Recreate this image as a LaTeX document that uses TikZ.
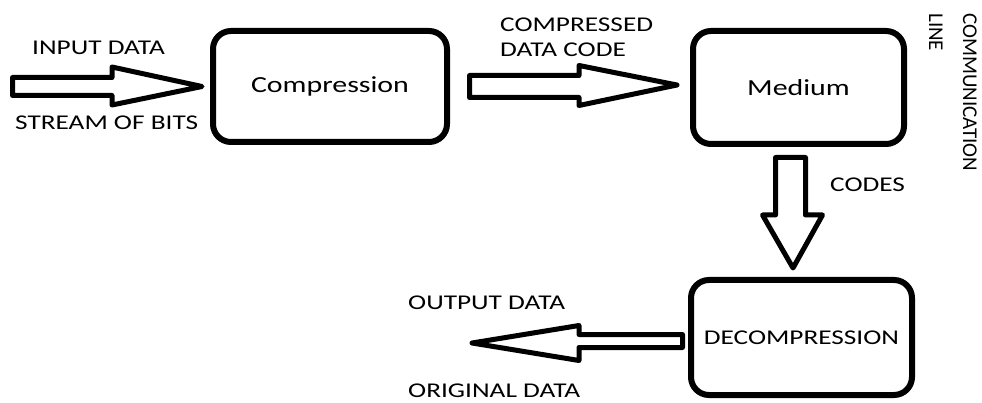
\documentclass[tikz,border=0pt]{standalone}
\usepackage{fontspec}
\setmainfont{Carlito}[FakeStretch=1.3]
\newfontfamily\plainfont{Carlito}
\begin{document}
\begin{tikzpicture}[x=1pt,y=-1pt,
  box/.style={draw, line width=6pt, rounded corners=18pt, inner sep=0pt, align=center},
  blockarrow/.style={draw, line width=5pt, line join=round, fill=white},
  lbl/.style={inner sep=0pt, font=\fontsize{21}{24.7}\selectfont, align=left}]
\useasboundingbox (0,0) rectangle (982,403);
% boxes
\node[box, minimum width=234pt, minimum height=111pt, font=\fontsize{23}{27}\selectfont] (comp) at (330,86.5) {Compression};
\node[box, minimum width=211pt, minimum height=113pt, font=\fontsize{23}{27}\selectfont] (med) at (798.5,87.5) {Medium};
\node[box, minimum width=221pt, minimum height=115pt, font=\fontsize{21}{25}\selectfont] (dec) at (801.5,337.5) {DECOMPRESSION};
% labels
\node[lbl, anchor=base west] (in) at (32,55) {INPUT DATA};
\node[lbl, anchor=base west] (stream) at (15,130) {STREAM OF BITS};
\node[lbl, anchor=north west] (cdc) at (500,18) {COMPRESSED\\DATA CODE};
\node[lbl, anchor=base west] (codes) at (830,191.5) {CODES};
\node[lbl, anchor=base west] (out) at (408,309) {OUTPUT DATA};
\node[lbl, anchor=base west] (orig) at (408,397.5) {ORIGINAL DATA};
\node[inner sep=0pt, rotate=-90, anchor=north west, align=left, font=\plainfont\fontsize{21}{34}\selectfont] (comm) at (977,13) {COMMUNICATION\\LINE};
% block arrows
\coordinate (t1) at ([xshift=-8pt]comp.west);
\draw[blockarrow] (12.5,77.5) -- (112,77.5) -- (112,67) -- (t1) -- (112,105) -- (112,95.5) -- (12.5,95.5) -- cycle;
\coordinate (t2) at ([xshift=-13pt,yshift=2.5pt]med.west);
\draw[blockarrow] (469.5,75.5) -- (579,75.5) -- (579,65.5) -- (t2) -- (579,105.5) -- (579,97.5) -- (469.5,97.5) -- cycle;
\coordinate (t3) at ([xshift=-8.5pt,yshift=9pt]dec.north);
\draw[blockarrow] (775.5,157.5) -- (805.5,157.5) -- (805.5,215) -- (822.5,215) -- (t3) -- (762.5,215) -- (775.5,215) -- cycle;
\coordinate (t4) at (472,343);
\draw[blockarrow] (682.5,334.5) -- (579,334.5) -- (579,325.5) -- (t4) -- (579,360.5) -- (579,347.5) -- (682.5,347.5) -- cycle;
\end{tikzpicture}
\end{document}
